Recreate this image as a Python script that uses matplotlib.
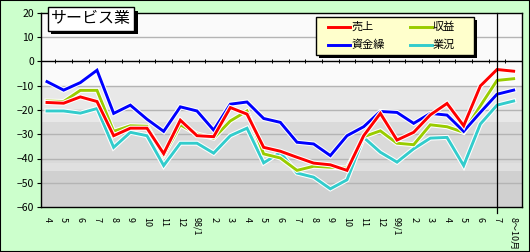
import matplotlib
matplotlib.use('Agg')
import matplotlib.pyplot as plt
import matplotlib.patheffects as pe
from matplotlib.lines import Line2D
from matplotlib.patches import Rectangle

plt.rcParams['font.family'] = ['Noto Sans CJK JP', 'DejaVu Sans']

# month labels (97/4 .. 99/7, then 8～10月 forecast)
labels = ['4', '5', '6', '7', '8', '9', '10', '11', '12',
          '98/1', '2', '3', '4', '5', '6', '7', '8', '9', '10', '11', '12',
          '99/1', '2', '3', '4', '5', '6', '7', '8～10月']

uriage = [-16.9, -17.2, -14.6, -16.5, -30.6, -27.5, -27.5, -38.0, -24.2, -30.6,
          -31.0, -19.0, -21.7, -35.4, -37.0, -39.5, -41.9, -42.6, -44.9, -30.6,
          -21.4, -32.4, -29.2, -22.0, -17.3, -26.5, -10.1, -3.3, -4.0]
shueki = [-16.3, -16.5, -11.9, -11.9, -28.8, -26.5, -26.7, -38.7, -26.1, -29.9,
          -31.6, -24.5, -20.4, -38.1, -39.8, -44.9, -43.2, -43.6, -44.0, -31.0,
          -28.6, -33.7, -34.3, -26.1, -26.9, -29.2, -18.3, -7.8, -7.1]
shikinguri = [-8.3, -11.8, -8.7, -3.6, -21.4, -18.0, -23.8, -28.8, -18.7, -20.4,
              -28.3, -17.6, -16.7, -23.5, -25.1, -33.3, -34.0, -38.8, -30.6, -26.9,
              -20.6, -21.0, -25.5, -21.4, -22.1, -28.8, -21.0, -13.5, -11.8]
gyokyo = [-20.4, -20.4, -21.3, -19.4, -35.4, -29.2, -30.6, -42.9, -33.7, -33.7,
          -37.8, -30.6, -27.5, -41.8, -37.5, -46.0, -47.7, -52.5, -48.8, -31.3,
          -37.4, -41.5, -36.0, -31.6, -31.3, -42.9, -25.8, -18.0, -16.3]

x = list(range(len(labels)))

W, H = 530, 252


def fx(px):
    return px / W


def fy(py):
    return 1 - py / H


fig = plt.figure(figsize=(5.3, 2.52), dpi=100, facecolor='#CCFFCC')
ax = fig.add_axes([fx(41), fy(207), (522 - 41)/W, (207 - 13)/H])
ax.set_facecolor('#FAFAFA')

# shaded bands
ax.axhspan(-25, -10, color='#E8E8E8', zorder=0, lw=0)
ax.axhspan(-42, -25, color='#DADADA', zorder=0, lw=0)
ax.axhspan(-45, -42, color='#E0E0E0', zorder=0, lw=0)
ax.axhspan(-60, -45, color='#D0D0D0', zorder=0, lw=0)
for g in [10, -10, -20, -30, -40, -50]:
    ax.axhline(g, color='#B4B4B4', lw=1, zorder=1)
ax.axhline(0, color='black', lw=1, zorder=2)
ax.plot([i - 0.5 for i in x[1:]], [0] * (len(x) - 1), ls='none', marker='|',
        ms=3, mew=0.7, color='black', zorder=2)

halo = [pe.Stroke(linewidth=3.6, foreground='white'), pe.Normal()]
series = [(gyokyo, '#33CCCC', '業況'), (shueki, '#99CC00', '収益'),
          (shikinguri, '#0000FF', '資金繰'), (uriage, '#FF0000', '売上')]
for vals, col, name in series:
    ax.plot(x, vals, color=col, lw=2.1, zorder=3, path_effects=halo,
            solid_joinstyle='miter')

ax.axvline(27, ymin=-0.03, ymax=1, color='black', lw=0.9, clip_on=False, zorder=4)

ax.set_xlim(-0.36, 28.5)
ax.set_ylim(-60, 20)
ax.set_yticks(range(-60, 21, 10))
ax.tick_params(axis='y', labelsize=7.5, length=3, pad=2)
ax.set_xticks(x)
ax.set_xticklabels(labels, rotation=-90, fontsize=6.5)
ax.tick_params(axis='x', length=0, pad=7)
for s in ax.spines.values():
    s.set_color('black')
    s.set_linewidth(1)

# legend box drawn by hand (Excel style, with shadow)
fig.add_artist(Rectangle((fx(319), fy(58)), fx(158), 38/H, transform=fig.transFigure,
                         facecolor='black', edgecolor='none', zorder=8))
fig.add_artist(Rectangle((fx(316), fy(55)), fx(158), 38/H, transform=fig.transFigure,
                         facecolor='#FFFFCC', edgecolor='black', lw=1, zorder=9))
leg_items = [('売上', '#FF0000', 328, 27), ('収益', '#99CC00', 410, 27),
             ('資金繰', '#0000FF', 328, 45), ('業況', '#33CCCC', 410, 45)]
for name, col, lx, ly in leg_items:
    fig.add_artist(Line2D([fx(lx), fx(lx + 22)], [fy(ly), fy(ly)], transform=fig.transFigure,
                          color=col, lw=2.1, zorder=10))
    fig.text(fx(lx + 23), fy(ly), name, fontsize=8, va='center', ha='left', zorder=10)

t = ax.text((91 - 41)/481, 1 - 6/194, 'サービス業', transform=ax.transAxes,
            ha='center', va='center', fontsize=11.5, zorder=7,
            bbox=dict(boxstyle='square,pad=0.2', facecolor='white', edgecolor='black', lw=1))
t.get_bbox_patch().set_path_effects([
    pe.SimplePatchShadow(offset=(2.5, -2.5), shadow_rgbFace='black', alpha=1),
    pe.Normal()])

fig.patches.append(plt.Rectangle((0, 0), 1, 1, transform=fig.transFigure,
                                 fill=False, edgecolor='black', lw=1.5))

fig.savefig('out.png', dpi=100, facecolor=fig.get_facecolor())
